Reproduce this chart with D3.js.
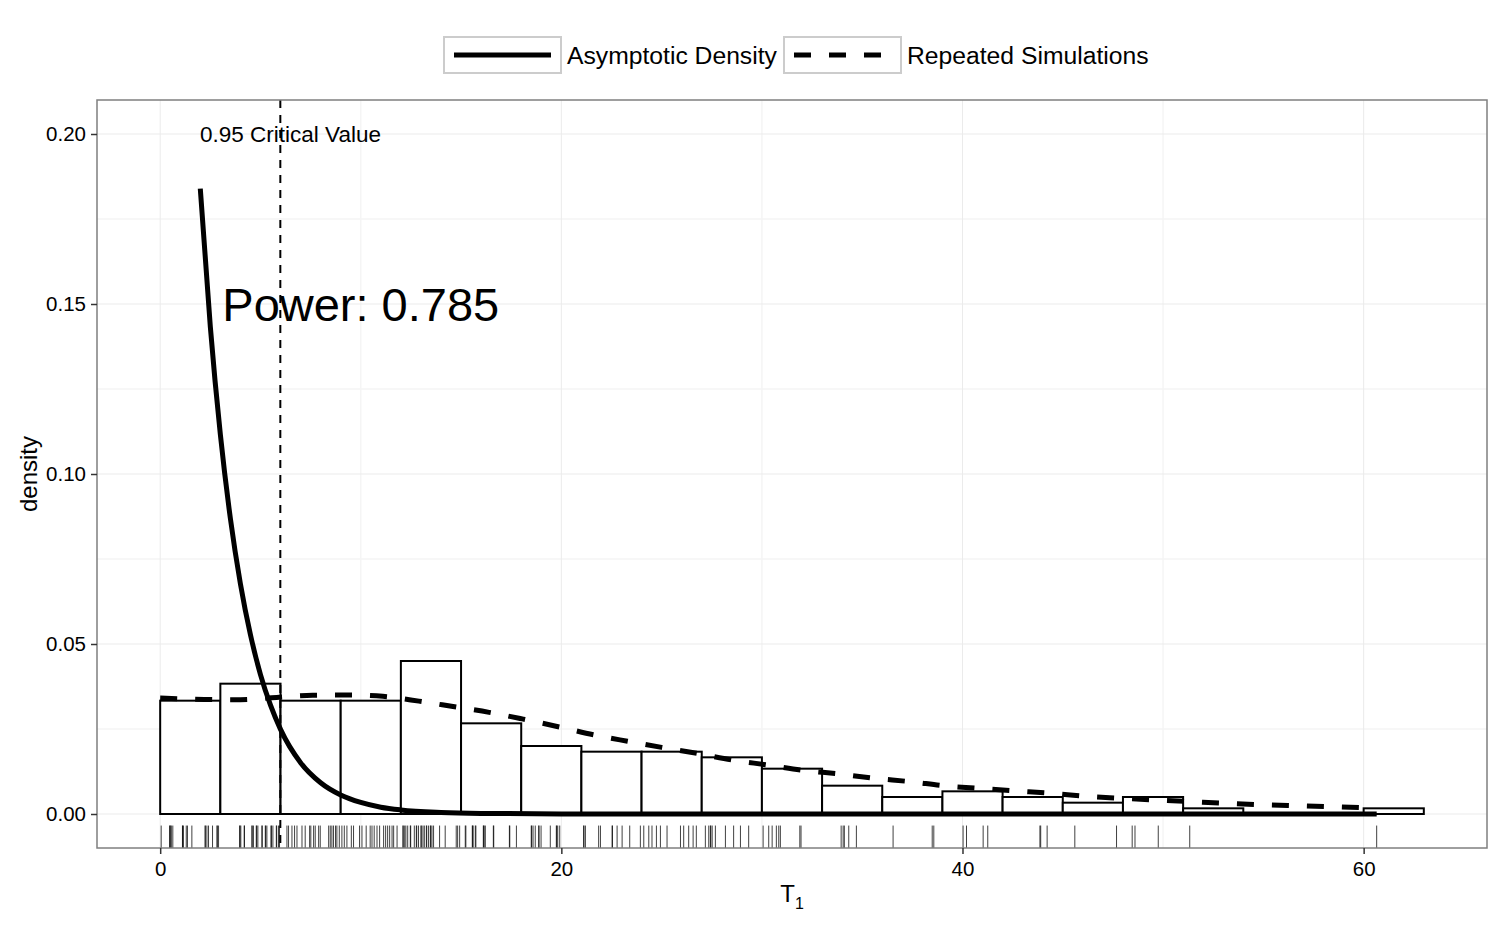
<!DOCTYPE html>
<html>
<head>
<meta charset="utf-8">
<script src="https://cdn.jsdelivr.net/npm/d3@7"></script>
<style>
  body { margin: 0; background: #fff; }
  text { font-family: "Liberation Sans", Arial, sans-serif; }
</style>
</head>
<body>
<div id="chart"></div>
<script>
// histogram of the simulated statistic (bin width 3)
let binStart = [0, 3, 6, 9, 12, 15, 18, 21, 24, 27, 30, 33, 36, 39, 42, 45, 48, 51, 54, 57, 60];
let binDensity = [0.03333, 0.03833, 0.03333, 0.03333, 0.045, 0.02667, 0.02, 0.01833, 0.01833, 0.01667,
                  0.01333, 0.00833, 0.005, 0.00667, 0.005, 0.00333, 0.005, 0.00167, 0, 0, 0.00167];
let binWidth = 3;

// asymptotic density (solid)
let asymX = [2, 2.5, 3, 3.5, 4, 4.5, 5, 5.5, 6, 7, 8, 9, 10, 11, 12, 14, 16, 20, 30, 60.65];
let asymY = [0.1839, 0.1433, 0.1116, 0.0869, 0.0677, 0.0527, 0.041, 0.032, 0.0249, 0.0151, 0.0092,
             0.0056, 0.0034, 0.002, 0.0012, 0.00046, 0.00017, 0.00002, 0, 0];

// density of the repeated simulations (dashed)
let simX = [0, 2.2, 4.0, 5.8, 7.6, 9.3, 11.1, 12.9, 14.6, 16.4, 18.1, 19.9, 21.6, 23.3, 25.0, 26.8, 28.5,
            30.3, 32.0, 33.8, 35.6, 37.4, 39.1, 40.9, 42.6, 44.4, 46.2, 48.0, 49.7, 51.5, 53.3, 55.1,
            56.9, 58.6, 60.65];
let simY = [0.0341, 0.0337, 0.0336, 0.0343, 0.0349, 0.035, 0.0346, 0.0332, 0.0316, 0.0299, 0.0279,
            0.0256, 0.0233, 0.0214, 0.0196, 0.0178, 0.0159, 0.0144, 0.0129, 0.0118, 0.0105, 0.0095,
            0.0083, 0.0075, 0.0068, 0.0061, 0.0052, 0.0046, 0.0041, 0.0036, 0.0031, 0.0027, 0.0024,
            0.0021, 0.0017];

// rug: the simulated values
let rugValues = [
  0.05, 0.47, 0.49, 0.53, 0.55, 0.63, 1.11, 1.12, 1.16, 1.30, 1.36, 1.58, 2.24, 2.25, 2.33, 2.41, 2.61, 2.83, 2.85, 2.91,
  3.96, 3.98, 4.02, 4.19, 4.20, 4.57, 4.59, 4.65, 4.79, 4.81, 4.87, 5.07, 5.09, 5.24, 5.26, 5.32, 5.52, 5.55, 5.62, 5.79, 5.81, 5.90, 5.95,
  6.32, 6.40, 6.57, 6.70, 6.82, 7.07, 7.23, 7.45, 7.51, 7.65, 7.73, 7.90, 7.98, 8.40, 8.48, 8.56, 8.64, 8.74, 8.81, 8.93,
  9.06, 9.18, 9.31, 9.53, 9.64, 9.94, 10.06, 10.27, 10.47, 10.56, 10.67, 10.81, 10.94, 11.14, 11.24, 11.34, 11.44, 11.56, 11.64, 11.81,
  12.10, 12.12, 12.19, 12.25, 12.34, 12.47, 12.49, 12.67, 12.77, 12.79, 12.88, 13.00, 13.02, 13.10, 13.17, 13.27, 13.29, 13.38, 13.47,
  13.49, 13.55, 13.63, 13.93, 14.21, 14.76, 14.83, 14.93,
  15.21, 15.24, 15.56, 15.58, 15.60, 15.71, 15.74, 16.11, 16.13, 16.15, 16.21, 16.61, 16.63, 17.41, 17.43, 17.76,
  18.50, 18.52, 18.59, 18.70, 18.87, 18.89, 18.99, 19.45, 19.75, 19.77, 19.82, 19.92,
  21.11, 21.13, 21.20, 21.86, 21.95, 22.53, 22.55, 22.78, 23.03, 23.41, 23.94,
  24.11, 24.36, 24.52, 24.74, 24.94, 25.27, 25.94, 26.10, 26.35, 26.57, 26.73,
  27.18, 27.35, 27.43, 27.45, 27.52, 27.68, 28.18, 28.59, 28.93, 29.34,
  30.06, 30.34, 30.51, 30.72, 30.84, 30.92, 31.89, 31.95,
  33.95, 34.05, 34.11, 34.33, 34.71,
  36.54, 38.49, 38.57,
  40.03, 40.20, 41.03, 41.26,
  43.86, 43.90, 44.22,
  45.60, 47.68,
  48.46, 48.60, 49.76,
  51.33,
  60.65
];

let criticalValue = 5.99;
let powerLabel = "Power: 0.785";
let xTicks = [0, 20, 40, 60];
let xMinor = [10, 30, 50];
let yTicks = [0, 0.05, 0.10, 0.15, 0.20];
let yMinor = [0.025, 0.075, 0.125, 0.175];
let legendLabels = ["Asymptotic Density", "Repeated Simulations"];

let w = 1500, h = 925;
let padLeft = 97, padRight = 1487, padTop = 100, padBottom = 848;

let svg = d3.select("#chart").append("svg")
  .attr("width", w)
  .attr("height", h);

let xScale = d3.scaleLinear().domain([-3.15, 66.15]).range([padLeft, padRight]);
let yScale = d3.scaleLinear().domain([-0.01, 0.21]).range([padBottom, padTop]);

// grid
svg.append("g").selectAll("line")
  .data(xMinor).enter().append("line")
  .attr("x1", d => xScale(d)).attr("x2", d => xScale(d))
  .attr("y1", padTop).attr("y2", padBottom)
  .attr("stroke", "#f5f5f5").attr("stroke-width", 1.5);
svg.append("g").selectAll("line")
  .data(yMinor).enter().append("line")
  .attr("x1", padLeft).attr("x2", padRight)
  .attr("y1", d => yScale(d)).attr("y2", d => yScale(d))
  .attr("stroke", "#f5f5f5").attr("stroke-width", 1.5);
svg.append("g").selectAll("line")
  .data(xTicks).enter().append("line")
  .attr("x1", d => xScale(d)).attr("x2", d => xScale(d))
  .attr("y1", padTop).attr("y2", padBottom)
  .attr("stroke", "#ebebeb").attr("stroke-width", 1);
svg.append("g").selectAll("line")
  .data(yTicks).enter().append("line")
  .attr("x1", padLeft).attr("x2", padRight)
  .attr("y1", d => yScale(d)).attr("y2", d => yScale(d))
  .attr("stroke", "#ebebeb").attr("stroke-width", 1);

// histogram
svg.append("g").selectAll("rect")
  .data(binStart).enter().append("rect")
  .attr("x", d => xScale(d))
  .attr("width", xScale(binWidth) - xScale(0))
  .attr("y", (d, i) => yScale(binDensity[i]))
  .attr("height", (d, i) => yScale(0) - yScale(binDensity[i]))
  .attr("fill", "#fff")
  .attr("stroke", "#000")
  .attr("stroke-width", 2);

// rug
svg.append("g").selectAll("line")
  .data(rugValues).enter().append("line")
  .attr("x1", d => xScale(d)).attr("x2", d => xScale(d))
  .attr("y1", padBottom).attr("y2", padBottom - 0.03 * (padBottom - padTop))
  .attr("stroke", "#000").attr("stroke-width", 1).attr("stroke-opacity", 0.75);

let line = d3.line()
  .x(d => xScale(d[0]))
  .y(d => yScale(d[1]))
  .curve(d3.curveMonotoneX);

svg.append("path")
  .datum(simX.map((x, i) => [x, simY[i]]))
  .attr("d", line)
  .attr("fill", "none")
  .attr("stroke", "#000")
  .attr("stroke-width", 5)
  .attr("stroke-dasharray", "17,18");

svg.append("path")
  .datum(asymX.map((x, i) => [x, asymY[i]]))
  .attr("d", line)
  .attr("fill", "none")
  .attr("stroke", "#000")
  .attr("stroke-width", 5);

// critical value
svg.append("line")
  .attr("x1", xScale(criticalValue)).attr("x2", xScale(criticalValue))
  .attr("y1", padTop).attr("y2", padBottom)
  .attr("stroke", "#000").attr("stroke-width", 2)
  .attr("stroke-dasharray", "8,7");

svg.append("text")
  .attr("x", xScale(6.5)).attr("y", yScale(0.2))
  .attr("text-anchor", "middle").attr("dominant-baseline", "central")
  .attr("font-size", 22.5)
  .text("0.95 Critical Value");

svg.append("text")
  .attr("x", xScale(10)).attr("y", yScale(0.15))
  .attr("text-anchor", "middle").attr("dominant-baseline", "central")
  .attr("font-size", 47)
  .text(powerLabel);

// panel border
svg.append("rect")
  .attr("x", padLeft).attr("y", padTop)
  .attr("width", padRight - padLeft).attr("height", padBottom - padTop)
  .attr("fill", "none").attr("stroke", "#7f7f7f").attr("stroke-width", 1.5);

// axes
let xAxis = d3.axisBottom(xScale).tickValues(xTicks).tickSize(6).tickPadding(7).tickFormat(d3.format("d"));
let yAxis = d3.axisLeft(yScale).tickValues(yTicks).tickSize(6).tickPadding(5).tickFormat(d3.format(".2f"));

let gx = svg.append("g").attr("transform", "translate(0," + padBottom + ")").call(xAxis);
let gy = svg.append("g").attr("transform", "translate(" + padLeft + ",0)").call(yAxis);
[gx, gy].forEach(g => {
  g.select(".domain").remove();
  g.selectAll(".tick line").attr("stroke", "#333").attr("stroke-width", 1.5);
  g.selectAll(".tick text").attr("font-size", 20.5).attr("fill", "#000")
    .attr("font-family", "Liberation Sans, Arial, sans-serif");
});

// axis titles
let xt = svg.append("text")
  .attr("x", (padLeft + padRight) / 2).attr("y", 902)
  .attr("text-anchor", "middle")
  .attr("font-size", 24);
xt.append("tspan").text("T");
xt.append("tspan").attr("font-size", 16).attr("dy", 7).text("1");

svg.append("text")
  .attr("transform", "translate(37," + ((padTop + padBottom) / 2) + ") rotate(-90)")
  .attr("text-anchor", "middle")
  .attr("font-size", 24)
  .text("density");

// legend
let legend = svg.append("g");
let keyX = [444, 784];
legendLabels.forEach((lab, i) => {
  let g = legend.append("g").attr("transform", "translate(" + keyX[i] + ",37)");
  g.append("rect")
    .attr("width", 117).attr("height", 36)
    .attr("fill", "#fff").attr("stroke", "#cccccc").attr("stroke-width", 2);
  g.append("line")
    .attr("x1", 10).attr("x2", 107).attr("y1", 18).attr("y2", 18)
    .attr("stroke", "#000").attr("stroke-width", 5)
    .attr("stroke-dasharray", i == 1 ? "17,18" : null);
  g.append("text")
    .attr("x", 123).attr("y", 18)
    .attr("dominant-baseline", "central")
    .attr("font-size", 24.7)
    .text(lab);
});
</script>
</body>
</html>
